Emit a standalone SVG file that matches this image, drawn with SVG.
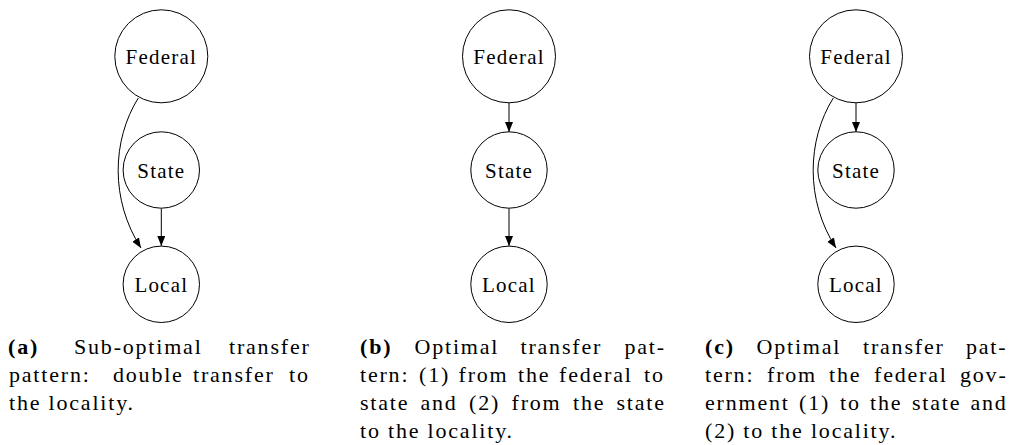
<svg xmlns="http://www.w3.org/2000/svg" width="1010" height="445" viewBox="0 0 1010 445">
<style>
.node circle{fill:#fff;stroke:#000;stroke-width:1}
.node text{font-family:"Liberation Serif",serif;font-size:21px;letter-spacing:1.2px;text-anchor:middle;fill:#000}
.edge{fill:none;stroke:#000;stroke-width:1;marker-end:url(#arr)}
.cap{font-family:"Liberation Serif",serif;font-size:22px;letter-spacing:1.8px;fill:#000}
.cap .b{font-weight:bold}
</style>
<defs>
<marker id="arr" markerUnits="userSpaceOnUse" markerWidth="10" markerHeight="8" refX="10" refY="4" orient="auto">
<path d="M0,0 L10,4 L0,8 z" fill="#000"/>
</marker>
</defs>
<rect width="1010" height="445" fill="#fff"/>
<g id="connectors">
<path class="edge" d="M138.3,98 C112,140 110,200 141,248"/>
<path class="edge" d="M161.3,208.5 L161.3,246"/>
<path class="edge" d="M509,103 L509,132"/>
<path class="edge" d="M509,208.5 L509,246"/>
<path class="edge" d="M856,103 L856,132"/>
<path class="edge" d="M833.3,98 C807,140 805,200 836,248"/>
</g>
<g id="a-federal" class="node"><circle cx="161.3" cy="56.3" r="46.5"/><text x="161.3" y="63.5">Federal</text></g>
<g id="a-state" class="node"><circle cx="161.3" cy="170" r="38.2"/><text x="161.3" y="177.5">State</text></g>
<g id="a-local" class="node"><circle cx="161.3" cy="284.3" r="38.2"/><text x="161.3" y="291.5">Local</text></g>
<g id="b-federal" class="node"><circle cx="509" cy="56.3" r="46.5"/><text x="509" y="63.5">Federal</text></g>
<g id="b-state" class="node"><circle cx="509" cy="170" r="38.2"/><text x="509" y="177.5">State</text></g>
<g id="b-local" class="node"><circle cx="509" cy="284.3" r="38.2"/><text x="509" y="291.5">Local</text></g>
<g id="c-federal" class="node"><circle cx="856" cy="56.3" r="46.5"/><text x="856" y="63.5">Federal</text></g>
<g id="c-state" class="node"><circle cx="856" cy="170" r="38.2"/><text x="856" y="177.5">State</text></g>
<g id="c-local" class="node"><circle cx="856" cy="284.3" r="38.2"/><text x="856" y="291.5">Local</text></g>
<g id="caption-a" class="cap">
<text y="353.5"><tspan class="b" x="8">(a)</tspan><tspan x="74">Sub-optimal</tspan><tspan x="229">transfer</tspan></text>
<text y="381.7"><tspan x="9">pattern:</tspan><tspan x="113">double</tspan><tspan x="193">transfer</tspan><tspan x="289">to</tspan></text>
<text y="409.9" x="9">the locality.</text>
</g>
<g id="caption-b" class="cap">
<text y="353.5"><tspan class="b" x="360">(b)</tspan><tspan x="414.5">Optimal</tspan><tspan x="520.5">transfer</tspan><tspan x="624.5">pat-</tspan></text>
<text y="381.7"><tspan x="360">tern:</tspan><tspan x="419">(1)</tspan><tspan x="458.5">from</tspan><tspan x="518">the</tspan><tspan x="559">federal</tspan><tspan x="644">to</tspan></text>
<text y="409.9"><tspan x="360">state</tspan><tspan x="420.5">and</tspan><tspan x="469">(2)</tspan><tspan x="511.5">from</tspan><tspan x="573">the</tspan><tspan x="616.5">state</tspan></text>
<text y="438" x="360">to the locality.</text>
</g>
<g id="caption-c" class="cap">
<text y="353.5"><tspan class="b" x="705">(c)</tspan><tspan x="756.5">Optimal</tspan><tspan x="863">transfer</tspan><tspan x="966">pat-</tspan></text>
<text y="381.7"><tspan x="705">tern:</tspan><tspan x="767">from</tspan><tspan x="829">the</tspan><tspan x="874">federal</tspan><tspan x="960">gov-</tspan></text>
<text y="409.9"><tspan x="705">ernment</tspan><tspan x="799">(1)</tspan><tspan x="840">to</tspan><tspan x="870">the</tspan><tspan x="912">state</tspan><tspan x="970.5">and</tspan></text>
<text y="438" x="705">(2) to the locality.</text>
</g>
</svg>
